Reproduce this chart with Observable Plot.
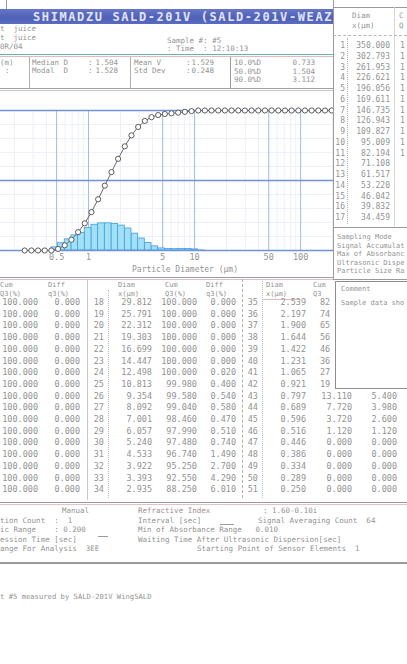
<!DOCTYPE html>
<html><head><meta charset="utf-8">
<script src="https://cdn.jsdelivr.net/npm/d3@7"></script>
<script src="https://cdn.jsdelivr.net/npm/@observablehq/plot@0.6"></script>
<style>
html,body{margin:0;padding:0;background:#fff;}
#page{position:relative;width:407px;height:664px;overflow:hidden;background:#fff;font-family:"DejaVu Sans Mono",monospace;color:#939393;}
.t{position:absolute;white-space:pre;line-height:1;}
.hl{position:absolute;height:0;}
.vl{position:absolute;width:0;}
</style></head>
<body><div id="page"></div>
<script>
// ---------- data ----------
const diam = [350.000, 302.793, 261.953, 226.621, 196.056, 169.611, 146.735, 126.943, 109.827, 95.009, 82.194, 71.108, 61.517, 53.220, 46.042, 39.832, 34.459,
  29.812, 25.791, 22.312, 19.303, 16.699, 14.447, 12.498, 10.813, 9.354, 8.092, 7.001, 6.057, 5.240, 4.533, 3.922, 3.393, 2.935,
  2.539, 2.197, 1.900, 1.644, 1.422, 1.231, 1.065, 0.921, 0.797, 0.689, 0.596, 0.516, 0.446, 0.386, 0.334, 0.289, 0.250];
const cumQ3 = [100,100,100,100,100,100,100,100,100,100,100,100,100,100,100,100,100,
  100,100,100,100,100,100,100, 99.980, 99.580, 99.040, 98.460, 97.990, 97.480, 96.740, 95.250, 92.550, 88.250,
  82.240, 74.400, 65.500, 56.000, 46.300, 36.600, 27.400, 19.400, 13.110, 7.720, 3.720, 1.120, 0, 0, 0, 0, 0];
const diffQ3 = [0,0,0,0,0,0,0,0,0,0,0,0,0,0,0,0,0,
  0,0,0,0,0,0, 0.020, 0.400, 0.540, 0.580, 0.470, 0.510, 0.740, 1.490, 2.700, 4.290, 6.010,
  7.840, 8.900, 9.500, 9.700, 9.700, 9.200, 8.000, 6.290, 5.400, 3.980, 2.600, 1.120, 0, 0, 0, 0, 0];
const xTicks = [0.5, 1, 5, 10, 50, 100];
const xMinor = [0.2,0.3,0.4,0.6,0.7,0.8,0.9,2,3,4,6,7,8,9,20,30,40,60,70,80,90,200];
const yMajor = [0, 50, 100];
const yMinor = [10,20,30,40,60,70,80,90];
const statsMid = [["Median D", "1.504"], ["Modal  D", "1.528"]];
const statsMean = [["Mean V", "1.529"], ["Std Dev", "0.248"]];
const statsPct = [["10.0%D", "0.733"], ["50.0%D", "1.504"], ["90.0%D", "3.112"]];
const samplingLabels = ["Sampling Mode", "Signal Accumulat", "Max of Absorbanc", "Ultrasonic Dispe", "Particle Size Ra"];
const q3Factor = 2; // q3 axis is 0–50 %

// ---------- helpers ----------
const page = document.getElementById("page");
function T(x, y, s, o = {}) {
  const d = document.createElement("div");
  d.className = "t";
  d.textContent = s;
  d.style.left = x + "px";
  d.style.top = y + "px";
  d.style.fontSize = (o.fs || 8) + "px";
  if (o.color) d.style.color = o.color;
  if (o.bold) d.style.fontWeight = "bold";
  if (o.ls) d.style.letterSpacing = o.ls + "px";
  d.style.transform = o.end ? "translate(-100%,-50%)" : (o.mid ? "translate(-50%,-50%)" : "translate(0,-50%)");
  (o.parent || page).appendChild(d);
  return d;
}
function H(x1, x2, y, c = "#a8a8a8", w = 1, st = "solid") {
  const d = document.createElement("div");
  d.className = "hl";
  d.style.left = x1 + "px"; d.style.width = (x2 - x1) + "px"; d.style.top = y + "px";
  d.style.borderTop = w + "px " + st + " " + c;
  page.appendChild(d);
}
function V(x, y1, y2, c = "#a8a8a8", w = 1, st = "solid") {
  const d = document.createElement("div");
  d.className = "vl";
  d.style.left = x + "px"; d.style.top = y1 + "px"; d.style.height = (y2 - y1) + "px";
  d.style.borderLeft = w + "px " + st + " " + c;
  page.appendChild(d);
}
function box(x, y, w, h, extra = {}) {
  const d = document.createElement("div");
  d.style.position = "absolute";
  d.style.left = x + "px"; d.style.top = y + "px"; d.style.width = w + "px"; d.style.height = h + "px";
  Object.assign(d.style, extra);
  page.appendChild(d);
  return d;
}
const f3 = v => v.toFixed(3);

// ---------- chart ----------
const points = diam.map((d, i) => ({d, c: cumQ3[i]}));
const bins = [];
for (let i = 0; i < diam.length - 1; i++) if (diffQ3[i] > 0) bins.push({x1: diam[i + 1], x2: diam[i], q: diffQ3[i] * q3Factor});

const chart = Plot.plot({
  width: 333, height: 180,
  marginLeft: 0, marginRight: 0, marginTop: 10, marginBottom: 30,
  x: {type: "log", domain: [0.1478, 204], axis: null},
  y: {domain: [0, 100], axis: null},
  style: {background: "transparent", fontFamily: "DejaVu Sans Mono", overflow: "hidden"},
  marks: [
    Plot.ruleX(xMinor, {stroke: "#eef0f8", strokeWidth: 1}),
    Plot.ruleY(yMinor, {stroke: "#eef0f8", strokeWidth: 1}),
    Plot.ruleX(xTicks, {stroke: "#a9b6e6", strokeWidth: 1}),
    Plot.rectY(bins, {x1: "x1", x2: "x2", y: "q", fill: "#a2e0f6", stroke: "#3f9fe0", strokeWidth: 0.8}),
    Plot.ruleY(yMajor, {stroke: "#7092dc", strokeWidth: 1.3}),
    Plot.line(points, {x: "d", y: "c", stroke: "#6a6a6a", strokeWidth: 1}),
    Plot.dot(points, {x: "d", y: "c", r: 2.6, stroke: "#5c5c5c", fill: "#fff", strokeWidth: 1}),
    Plot.text(xTicks, {x: d => d, frameAnchor: "bottom", dy: 9, text: d => String(d), fill: "#939393", fontSize: 8.5})
  ]
});
const chartWrap = box(0, 100, 333, 180, {overflow: "hidden"});
chartWrap.appendChild(chart);
T(185, 270, "Particle Diameter (μm)", {fs: 8, mid: true});

// ---------- header ----------
V(6, 0, 9, "#9a9a9a");
box(0, 9, 333, 15, {background: "linear-gradient(#6676c8,#4f60b8 60%,#5a6bc2)"});
T(33, 16.5, "SHIMADZU SALD-201V (SALD-201V-WEAZ", {fs: 12, bold: true, ls: 1.6, color: "#e2e5f7"});
T(0, 29, "t  juice", {fs: 7.5});
T(0, 38, "t  juice", {fs: 7.5});
T(0, 47, "0R/04", {fs: 7.5});
T(167, 41, "Sample #: #5", {fs: 7.5});
T(167, 48.5, ": Time  : 12:10:13", {fs: 7.5});
H(0, 333, 54, "#66b3aa", 1.5);
H(0, 333, 56, "#e6b7bf", 1);
// stats box
V(29, 57, 88, "#b0b0b0"); V(130, 57, 88, "#b0b0b0"); V(230, 57, 88, "#9a9a9a");
H(0, 333, 88, "#a0a0a0", 1); H(0, 333, 90, "#c8c8c8", 1);
T(0, 63, "(m)", {fs: 7.5}); T(5, 71, ":", {fs: 7.5});
statsMid.forEach((s, i) => { T(32, 63 + i * 8, s[0], {fs: 7.5}); T(88, 63 + i * 8, ":", {fs: 7.5}); T(118, 63 + i * 8, s[1], {fs: 7.5, end: true}); });
statsMean.forEach((s, i) => { T(134, 63 + i * 8, s[0], {fs: 7.5}); T(186, 63 + i * 8, ":", {fs: 7.5}); T(214, 63 + i * 8, s[1], {fs: 7.5, end: true}); });
statsPct.forEach((s, i) => { T(234, 63 + i * 8.5, s[0], {fs: 7.5}); T(315, 63 + i * 8.5, s[1], {fs: 7.5, end: true}); });

// ---------- right panel (rows 1–17) ----------
box(333, 0, 74, 280, {background: "#fff"});
V(333, 0, 280, "#9a9a9a");
H(333, 407, 7, "#9a9a9a");
T(352, 16, "Diam", {fs: 7.5}); T(352, 26, "x(μm)", {fs: 7.5});
T(399, 16, "C", {fs: 7.5}); T(399, 26, "Q", {fs: 7.5});
V(394, 7, 226, "#d6d6d6");
H(333, 407, 35, "#b8b8b8", 1, "dashed");
V(347, 38, 224, "#b0b0b0", 1, "dotted");
for (let i = 0; i < 17; i++) {
  const y = 46 + i * 10.75;
  T(345, y, String(i + 1), {fs: 8, end: true});
  T(390, y, f3(diam[i]), {fs: 8, end: true});
  if (i < 11) T(400, y, f3(cumQ3[i]).slice(0, 1), {fs: 8});
}
H(333, 407, 227, "#9a9a9a", 1);
samplingLabels.forEach((s, i) => T(337, 237 + i * 8.6, s, {fs: 7}));
H(333, 407, 279, "#9a9a9a", 1);

// ---------- main table ----------
H(0, 333, 277, "#a0a0a0", 1); H(0, 333, 279, "#e0c0c8", 1);
// headers
T(0, 285, "Cum", {fs: 7}); T(0, 294, "Q3(%)", {fs: 7});
T(48, 285, "Diff", {fs: 7}); T(48, 294, "q3(%)", {fs: 7});
T(118, 285, "Diam", {fs: 7}); T(118, 294, "x(μm)", {fs: 7});
T(165, 285, "Cum", {fs: 7}); T(165, 294, "Q3(%)", {fs: 7});
T(206, 285, "Diff", {fs: 7}); T(206, 294, "q3(%)", {fs: 7});
T(266, 285, "Diam", {fs: 7}); T(266, 294, "x(μm)", {fs: 7});
T(313, 285, "Cum", {fs: 7}); T(313, 294, "Q3", {fs: 7});
H(262, 300, 299, "#e6b7bf", 1);
V(87, 279, 500, "#c8c8c8");
V(108, 290, 498, "#bdbdbd", 1, "dotted");
V(242, 279, 498, "#b0b0b0", 1, "dashed");
V(262, 281, 498, "#bdbdbd", 1, "dotted");
// comment box (covers the right part of rows 35–42)
box(335, 281, 80, 108, {background: "#fff", border: "1px solid #8e8e8e", boxSizing: "border-box"});
T(341, 289, "Comment", {fs: 7});
T(341, 303, "Sample data sho", {fs: 7});
for (let r = 0; r < 17; r++) {
  const y = 302 + r * 11.7;
  // rows 1–17: cum / diff only
  T(38, y, f3(cumQ3[r]), {fs: 8.5, end: true});
  T(80, y, f3(diffQ3[r]), {fs: 8.5, end: true});
  // rows 18–34
  const a = r + 17;
  T(104, y, String(a + 1), {fs: 8.5, end: true});
  T(152, y, f3(diam[a]), {fs: 8.5, end: true});
  T(197, y, f3(cumQ3[a]), {fs: 8.5, end: true});
  T(236, y, f3(diffQ3[a]), {fs: 8.5, end: true});
  // rows 35–51
  const b = r + 34;
  T(258, y, String(b + 1), {fs: 8.5, end: true});
  T(306, y, f3(diam[b]), {fs: 8.5, end: true});
  if (r < 8) {
    T(320, y, f3(cumQ3[b]).slice(0, 2), {fs: 8.5}); // rest hidden under the comment box
  } else {
    T(352, y, f3(cumQ3[b]), {fs: 8.5, end: true});
    T(397, y, f3(diffQ3[b]), {fs: 8.5, end: true});
  }
}

// ---------- settings ----------
H(0, 407, 502, "#9a9a9a", 1.5); H(0, 407, 504, "#e6c0c8", 1);
const sy = [511, 520.5, 530, 539.5, 549];
T(62, sy[0], "Manual", {fs: 7.5}); T(138, sy[0], "Refractive Index", {fs: 7.5, color: "#a08f93"}); T(263, sy[0], ": 1.60-0.10i", {fs: 7.5});
T(0, sy[1], "tion Count  :  1", {fs: 7.5}); T(138, sy[1], "Interval [sec]", {fs: 7.5}); H(220, 234, sy[1] + 3, "#9a9a9a"); T(258, sy[1], "Signal Averaging Count  64", {fs: 7.5});
T(0, sy[2], "ic Range    : 0.200", {fs: 7.5}); T(138, sy[2], "Min of Absorbance Range   0.010", {fs: 7.5});
T(0, sy[3], "ession Time [sec]", {fs: 7.5}); H(98, 108, sy[3] - 4, "#9a9a9a"); T(138, sy[3], "Waiting Time After Ultrasonic Dispersion[sec]", {fs: 7.5});
T(0, sy[4], "ange For Analysis  3EE", {fs: 7.5}); T(197, sy[4], "Starting Point of Sensor Elements  1", {fs: 7.5});
H(0, 407, 562, "#9a9a9a", 2);

// ---------- footer ----------
T(0, 597, "t #5 measured by SALD-201V WingSALD", {fs: 7.2});
</script></body></html>
